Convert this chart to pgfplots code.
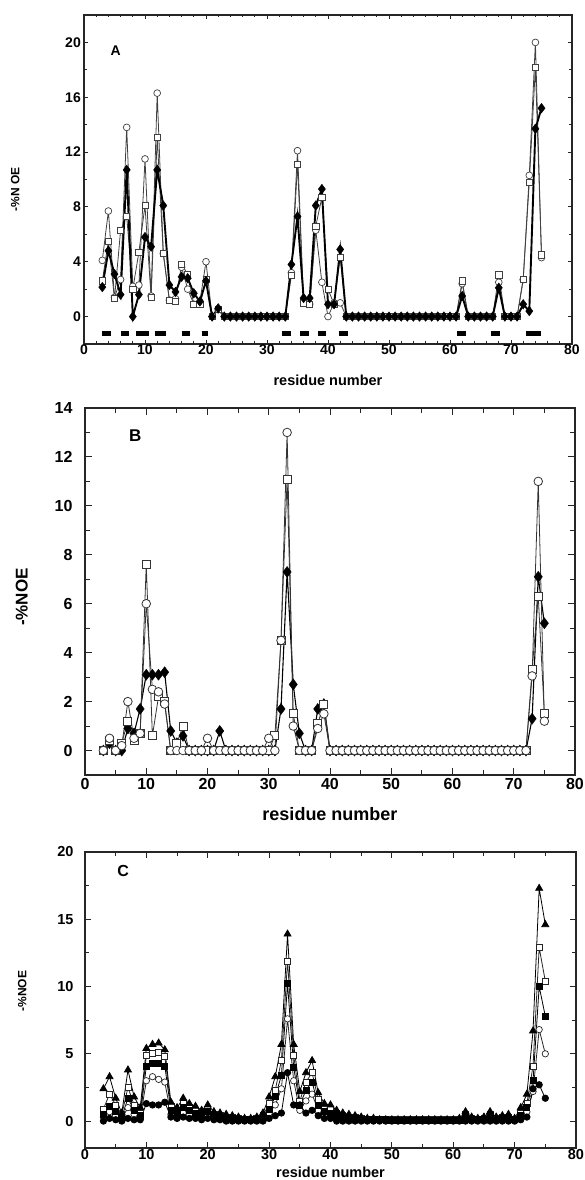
\documentclass[border=0pt]{standalone}
\usepackage{fontspec}
\setmainfont{Liberation Sans}
\usepackage{pgfplots}
\usepackage{pgfplotstable}
\pgfplotsset{compat=1.18}

% panel A: residue, open circles, open squares, filled diamonds
\pgfplotstableread{
r c s d
3 4.1 2.6 2.15
4 7.7 5.5 4.8
5 1.4 1.3 3.1
6 2.7 6.3 1.6
7 13.8 7.3 10.7
8 2.2 2.0 0
9 2.3 4.7 1.6
10 11.5 8.1 5.8
11 1.5 1.4 5.1
12 16.3 13.1 10.7
13 4.6 4.6 8.1
14 1.2 1.2 2.3
15 1.3 1.1 1.8
16 3.6 3.8 2.9
17 2.0 3.1 2.8
18 0.9 0.9 1.7
19 1.1 0.9 1.1
20 4.0 2.7 2.6
21 0 0 0
22 0.5 0.5 0.6
23 0 0 0
24 0 0 0
25 0 0 0
26 0 0 0
27 0 0 0
28 0 0 0
29 0 0 0
30 0 0 0
31 0 0 0
32 0 0 0
33 0 0 0
34 3.2 3.0 3.8
35 12.1 11.1 7.3
36 1.1 1.0 1.35
37 0.9 0.9 1.35
38 6.3 6.6 8.1
39 2.5 8.7 9.3
40 0 2.0 0.9
41 1.0 0.9 0.9
42 1.0 4.3 4.9
43 0 0 0
44 0 0 0
45 0 0 0
46 0 0 0
47 0 0 0
48 0 0 0
49 0 0 0
50 0 0 0
51 0 0 0
52 0 0 0
53 0 0 0
54 0 0 0
55 0 0 0
56 0 0 0
57 0 0 0
58 0 0 0
59 0 0 0
60 0 0 0
61 0 0 0
62 2.4 2.6 1.5
63 0 0 0
64 0 0 0
65 0 0 0
66 0 0 0
67 0 0 0
68 2.5 3.05 2.1
69 0 0 0
70 0 0 0
71 0 0 0
72 2.7 2.7 0.9
73 10.3 9.8 0.4
74 20.0 18.2 13.7
75 4.3 4.5 15.2
}\tabA

% black bars under panel A
\pgfplotstableread{
x y
3 -1.2
4.5 -1.2
nan nan
6 -1.2
7.3 -1.2
nan nan
8.6 -1.2
10.7 -1.2
nan nan
11.6 -1.2
13.4 -1.2
nan nan
16 -1.2
17.3 -1.2
nan nan
19.3 -1.2
20.4 -1.2
nan nan
32.5 -1.2
34 -1.2
nan nan
35.4 -1.2
36.9 -1.2
nan nan
38.4 -1.2
39.7 -1.2
nan nan
41.8 -1.2
43.2 -1.2
nan nan
61.2 -1.2
62.6 -1.2
nan nan
66.8 -1.2
68.2 -1.2
nan nan
72.5 -1.2
74.9 -1.2
}\tabBars

% panel B
\pgfplotstableread{
r c s d
3 0 0 0
4 0.5 0.4 0.3
5 0 0 0
6 0.2 0.3 0
7 2.0 1.2 0.9
8 0.5 0.4 0.7
9 0.7 0.7 1.7
10 6.0 7.6 3.1
11 2.5 0.6 3.1
12 2.4 2.2 3.1
13 1.9 2.0 3.2
14 0 0 0.8
15 0 0.3 0.3
16 0 1.0 0.6
17 0 0 0
18 0 0 0
19 0 0 0
20 0.5 0 0
21 0 0 0
22 0 0 0.8
23 0 0 0
24 0 0 0
25 0 0 0
26 0 0 0
27 0 0 0
28 0 0 0
29 0 0 0
30 0.5 0 0
31 0 0.6 0
32 4.5 4.5 1.7
33 13.0 11.1 7.3
34 1.0 1.5 2.7
35 0 0 0.7
36 0 0 0
37 0 0 0
38 0.9 1.1 1.7
39 1.5 1.9 1.9
40 0 0 0
41 0 0 0
42 0 0 0
43 0 0 0
44 0 0 0
45 0 0 0
46 0 0 0
47 0 0 0
48 0 0 0
49 0 0 0
50 0 0 0
51 0 0 0
52 0 0 0
53 0 0 0
54 0 0 0
55 0 0 0
56 0 0 0
57 0 0 0
58 0 0 0
59 0 0 0
60 0 0 0
61 0 0 0
62 0 0 0
63 0 0 0
64 0 0 0
65 0 0 0
66 0 0 0
67 0 0 0
68 0 0 0
69 0 0 0
70 0 0 0
71 0 0 0
72 0 0 0
73 3.05 3.3 1.3
74 11.0 6.3 7.1
75 1.2 1.5 5.2
}\tabB

% panel C: triangles, open squares, filled squares, open circles, filled circles
\pgfplotstableread{
r t os fs oc fc
3 2.4 0.9 0.5 0.3 0.0
4 3.3 2.0 1.1 0.7 0.2
5 1.7 1.2 0.7 0.4 0.1
6 0.6 0.5 0.3 0.2 0.0
7 3.8 2.5 1.7 1.0 0.2
8 1.8 1.2 0.8 0.5 0.1
9 1.0 0.6 0.4 0.2 0.1
10 5.4 4.9 4.1 3.0 1.3
11 5.7 5.0 4.3 3.3 1.2
12 5.8 5.1 4.3 3.1 1.2
13 5.3 4.8 4.1 2.9 1.4
14 1.4 1.1 0.8 0.5 0.3
15 1.0 0.8 0.6 0.4 0.2
16 1.7 1.3 1.0 0.6 0.3
17 1.3 1.0 0.8 0.5 0.2
18 1.1 0.8 0.6 0.4 0.2
19 0.8 0.6 0.5 0.3 0.1
20 1.2 0.9 0.7 0.4 0.2
21 0.7 0.5 0.4 0.2 0.1
22 0.6 0.4 0.3 0.2 0.1
23 0.5 0.3 0.2 0.1 0.0
24 0.4 0.3 0.2 0.1 0.0
25 0.3 0.2 0.1 0.1 0.0
26 0.2 0.1 0.1 0.1 0.0
27 0.2 0.1 0.1 0.1 0.0
27.5 nan nan nan nan nan
28 0.3 0.2 0.1 0.1 0.0
29 0.6 0.4 0.3 0.2 0.0
30 1.8 1.3 0.9 0.6 0.2
31 3.3 2.3 1.8 1.2 0.4
32 5.7 4.5 3.4 2.4 0.6
33 13.9 11.9 10.2 7.6 3.6
34 5.7 4.9 4.0 3.0 1.2
35 2.2 1.5 1.2 0.8 1.2
36 3.6 2.9 2.3 1.5 0.6
37 4.5 3.6 2.9 2.0 0.8
38 2.1 1.6 1.2 0.8 0.4
39 1.3 0.9 0.7 0.4 0.2
40 1.2 0.9 0.6 0.4 0.2
41 0.8 0.6 0.4 0.3 0.0
42 0.6 0.4 0.3 0.2 0.0
43 0.5 0.3 0.2 0.1 0.0
44 0.4 0.3 0.2 0.1 0.0
45 0.3 0.2 0.1 0.1 0.0
46 0.2 0.1 0.1 0.1 0.0
47 0.2 0.1 0.1 0.1 0.0
48 0.1 0.1 0.1 0.05 0.0
49 0.1 0.1 0.1 0.05 0.0
50 0.1 0.1 0.05 0.05 0.0
51 0.1 0.1 0.05 0.05 0.0
52 0.1 0.1 0.05 0.05 0.0
52.5 nan nan nan nan nan
53 0.1 0.1 0.05 0.05 0.0
54 0.1 0.1 0.05 0.05 0.0
55 0.1 0.1 0.05 0.05 0.0
56 0.1 0.1 0.05 0.05 0.0
57 0.1 0.1 0.05 0.05 0.0
58 0.1 0.1 0.05 0.05 0.0
59 0.1 0.1 0.05 0.05 0.0
60 0.1 0.1 0.05 0.05 0.0
61 0.2 0.1 0.05 0.05 0.0
62 0.7 0.5 0.4 0.3 0.0
63 0.3 0.2 0.1 0.1 0.0
64 0.2 0.1 0.1 0.1 0.0
65 0.3 0.2 0.1 0.1 0.0
66 0.7 0.5 0.4 0.3 0.0
67 0.3 0.2 0.1 0.1 0.0
68 0.4 0.3 0.2 0.1 0.0
69 0.5 0.3 0.2 0.1 0.0
69.5 nan nan nan nan nan
70 0.2 0.1 0.1 0.1 0.0
71 1.0 0.6 0.4 0.3 0.1
72 2.0 1.3 1.0 0.7 0.3
73 6.7 4.1 3.0 2.2 2.4
74 17.3 12.9 10.0 6.8 2.7
75 14.6 10.4 7.8 5.0 1.7
}\tabC

\pgfplotsset{
  panel/.style={
    scale only axis, anchor=south west,
    xmin=0, xmax=80, xtick={0,10,...,80},
    axis line style={line width=1.1pt, black!85},
    every tick/.style={line width=0.9pt, black!85},
    /pgf/number format/assume math mode=true,
    unbounded coords=jump,
    clip=false,
    xlabel={residue number},
  },
}

\begin{document}
\begin{tikzpicture}[x=1pt,y=1pt]
\path[use as bounding box] (0,0) rectangle (585,1180);

% ---------- A ----------
\begin{axis}[panel,
  at={(84pt,836pt)}, width=488pt, height=329pt,
  ymin=-2, ymax=22, ytick={0,4,...,20},
  minor x tick num=4, minor y tick num=1,
  major tick length=4pt, minor tick length=2.5pt,
  tick label style={font=\fontsize{14}{14}\selectfont\bfseries},
  xticklabel style={inner sep=1pt},
  yticklabel style={inner sep=3pt},
  x label style={at={(axis description cs:0.5,-0.109)}, anchor=center,
    font=\fontsize{14.5}{14.5}\selectfont\bfseries},
  ylabel={-\%N OE},
  y label style={at={(axis description cs:-0.141,0.47)}, anchor=center,
    font=\fontsize{12}{12}\selectfont\bfseries},
]
\addplot[black!75, line width=0.8pt, mark=*, mark size=3.4pt,
  mark options={fill=white, line width=0.7pt}] table[x=r,y=c] {\tabA};
\addplot[black!75, line width=0.8pt, mark=square*, mark size=3.1pt,
  mark options={fill=white, line width=0.7pt}] table[x=r,y=s] {\tabA};
\addplot[black, line width=1.9pt, mark=diamond*, mark size=4.8pt,
  mark options={line width=0.4pt}] table[x=r,y=d] {\tabA};
\addplot[black, line width=5pt, line cap=butt] table[x=x,y=y] {\tabBars};
\node[font=\fontsize{14}{14}\selectfont\bfseries] at (axis cs:5.2,19.4) {A};
\end{axis}

% ---------- B ----------
\begin{axis}[panel,
  at={(85pt,405pt)}, width=490pt, height=367pt,
  ymin=-1, ymax=14, ytick={0,2,...,14},
  minor x tick num=1, minor y tick num=1,
  major tick length=7pt, minor tick length=5pt,
  tick label style={font=\fontsize{16}{16}\selectfont\bfseries},
  xticklabel style={inner sep=3pt},
  yticklabel style={xshift=-9pt},
  x label style={at={(axis description cs:0.5,-0.106)}, anchor=center,
    font=\fontsize{18}{18}\selectfont\bfseries},
  ylabel={-\%NOE},
  y label style={at={(axis description cs:-0.129,0.485)}, anchor=center,
    font=\fontsize{17}{17}\selectfont\bfseries},
]
\addplot[black, line width=1.1pt, mark=diamond*, mark size=5.5pt,
  mark options={line width=0.4pt}] table[x=r,y=d] {\tabB};
\addplot[black!80, line width=0.8pt, mark=square*, mark size=4pt,
  mark options={fill=white, line width=0.8pt}] table[x=r,y=s] {\tabB};
\addplot[black!80, line width=0.8pt, mark=*, mark size=4.3pt,
  mark options={fill=white, line width=0.8pt}] table[x=r,y=c] {\tabB};
\node[font=\fontsize{17}{17}\selectfont\bfseries] at (axis cs:8.2,12.85) {B};
\end{axis}

% ---------- C ----------
\begin{axis}[panel,
  at={(85pt,32pt)}, width=491pt, height=296pt,
  ymin=-2, ymax=20, ytick={0,5,...,20},
  minor x tick num=1, minor y tick num=1,
  major tick length=6pt, minor tick length=4pt,
  tick label style={font=\fontsize{14.5}{14.5}\selectfont\bfseries},
  xticklabel style={inner sep=1.5pt},
  yticklabel style={xshift=-8pt},
  x label style={at={(axis description cs:0.5,-0.081)}, anchor=center,
    font=\fontsize{14.5}{14.5}\selectfont\bfseries},
  ylabel={-\%NOE},
  y label style={at={(axis description cs:-0.128,0.53)}, anchor=center,
    font=\fontsize{12}{12}\selectfont\bfseries},
]
\addplot[black!85, line width=0.8pt, mark=*, mark size=3.2pt,
  mark options={fill=white, line width=0.7pt}] table[x=r,y=oc] {\tabC};
\addplot[black!85, line width=0.8pt, mark=square*, mark size=3pt,
  mark options={fill=white, line width=0.7pt}] table[x=r,y=os] {\tabC};
\addplot[black, line width=0.8pt, mark=square*, mark size=3pt] table[x=r,y=fs] {\tabC};
\addplot[black, line width=0.8pt, mark=triangle*, mark size=4pt] table[x=r,y=t] {\tabC};
\addplot[black, line width=0.8pt, mark=*, mark size=3.2pt] table[x=r,y=fc] {\tabC};
\node[font=\fontsize{16}{16}\selectfont\bfseries] at (axis cs:6.2,18.6) {C};
\end{axis}
\end{tikzpicture}
\end{document}
